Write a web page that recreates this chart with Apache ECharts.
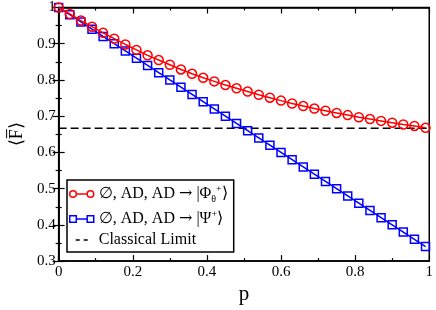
<!DOCTYPE html>
<html><head><meta charset="utf-8">
<script src="https://cdn.jsdelivr.net/npm/echarts@6/dist/echarts.min.js"></script>
<style>html,body{margin:0;padding:0;background:#fff}#c{width:436px;height:310px}</style>
</head><body><div id="c"></div>
<script>
const pValues = [0,0.03,0.06,0.09,0.12,0.15,0.18,0.21,0.24,0.27,0.30,0.33,0.36,0.39,0.42,0.45,0.48,0.51,0.54,0.57,0.60,0.63,0.66,0.69,0.72,0.75,0.78,0.81,0.84,0.87,0.90,0.93,0.96,0.99];
const phiFidelity = [1.000,0.982,0.964,0.947,0.930,0.914,0.898,0.883,0.868,0.855,0.842,0.829,0.817,0.806,0.796,0.786,0.777,0.768,0.759,0.751,0.743,0.735,0.728,0.721,0.715,0.709,0.703,0.697,0.692,0.687,0.682,0.677,0.673,0.668];
const psiFidelity = [1.00,0.98,0.96,0.94,0.92,0.90,0.88,0.86,0.84,0.82,0.80,0.78,0.76,0.74,0.72,0.70,0.68,0.66,0.64,0.62,0.60,0.58,0.56,0.54,0.52,0.50,0.48,0.46,0.44,0.42,0.40,0.38,0.36,0.34];
const classicalP = [0, 1];
const classicalLimit = [0.6667, 0.6667];
const xTicks = ['0','0.2','0.4','0.6','0.8','1'];

const serif = 'Liberation Serif';
const pair = (xs, ys) => xs.map((x, i) => [x, ys[i]]);

const chart = echarts.init(document.getElementById('c'), null, {renderer:'canvas'});
const axisCommon = {
  axisLine:{lineStyle:{color:'#000',width:1.5}},
  axisTick:{inside:true,length:6,lineStyle:{color:'#000',width:1.2}},
  minorTick:{show:true,splitNumber:2,length:3,lineStyle:{color:'#000',width:1.2}},
  splitLine:{show:false}
};
const labelStyle = {fontFamily:serif,fontSize:15,color:'#000',fontWeight:'normal'};
chart.setOption({
  animation:false,
  textStyle:{fontFamily:serif},
  grid:{left:48,right:5,top:7,bottom:35,show:true,borderColor:'#000',borderWidth:1.5},
  xAxis:[
    Object.assign({type:'value',min:0,max:1,interval:0.2,position:'bottom',
      name:'p',nameLocation:'middle',nameGap:8,
      nameTextStyle:{fontFamily:serif,fontSize:21,color:'#000'},
      axisLabel:Object.assign({margin:3,
        formatter:(v)=>{const i=Math.round(v/0.2);return xTicks[i]!==undefined?xTicks[i]:'';}}, labelStyle)}, axisCommon),
    Object.assign({type:'value',min:0,max:1,interval:0.2,position:'top',axisLabel:{show:false}}, axisCommon)
  ],
  yAxis:[
    Object.assign({type:'value',min:0.3,max:1,interval:0.1,position:'left',
      name:'\u27E8F\u0305\u27E9',nameLocation:'middle',nameGap:18,nameRotate:90,
      nameTextStyle:{fontFamily:serif,fontSize:18,color:'#000'},
      axisLabel:Object.assign({margin:3,
        formatter:(v)=>String(Math.round(v*10)/10)}, labelStyle)}, axisCommon),
    Object.assign({type:'value',min:0.3,max:1,interval:0.1,position:'right',axisLabel:{show:false}}, axisCommon)
  ],
  legend:{
    left:67,top:180,orient:'vertical',
    borderColor:'#000',borderWidth:1.5,borderRadius:0,backgroundColor:'#fff',
    padding:[4,6,4,2],itemGap:5,itemWidth:24,itemHeight:8,
    data:[
      {name:'phi',icon:'path://M4,1A3,3 0 1,1 4,7A3,3 0 1,1 4,1ZM7,4L17,4M20,1A3,3 0 1,1 20,7A3,3 0 1,1 20,1Z',
        itemStyle:{color:'rgba(0,0,0,0)',borderColor:'#ff0000',borderWidth:1.5}},
      {name:'psi',icon:'path://M1,1L7,1L7,7L1,7ZM7,4L17,4M17,1L23,1L23,7L17,7Z',
        itemStyle:{color:'rgba(0,0,0,0)',borderColor:'#0000ff',borderWidth:1.5}},
      {name:'cl',icon:'path://M0,0M6,4L10,4M14,4L18,4M24,8',
        itemStyle:{color:'rgba(0,0,0,0)',borderColor:'#000',borderWidth:1.5}}
    ],
    formatter:(n)=>{
      if(n==='phi') return '{m|\u2205, AD, AD }{a|\u2192}{m| |\u03A6}{sub|\u03B8}{sup|+}{m|\u27E9}';
      if(n==='psi') return '{m|\u2205, AD, AD }{a|\u2192}{m| |\u03A8}{sup|+}{m|\u27E9}';
      return '{m|Classical Limit}';
    },
    textStyle:{fontFamily:serif,fontSize:16,color:'#000',
      rich:{
        m:{fontFamily:serif,fontSize:16,color:'#000'},
        a:{fontFamily:'DejaVu Serif',fontSize:16,color:'#000'},
        sub:{fontFamily:serif,fontSize:10,color:'#000',verticalAlign:'bottom',lineHeight:20},
        sup:{fontFamily:serif,fontSize:10,color:'#000',verticalAlign:'top',lineHeight:20}
      }}
  },
  series:[
    {name:'cl',type:'line',data:pair(classicalP,classicalLimit),showSymbol:false,symbol:'none',
      lineStyle:{color:'#000',width:1.5,type:[8,4]},z:1},
    {name:'psi',type:'line',data:pair(pValues,psiFidelity),symbol:'rect',symbolSize:8,
      lineStyle:{color:'#0000ff',width:1.5},
      itemStyle:{color:'rgba(0,0,0,0)',borderColor:'#0000ff',borderWidth:1.5},z:2},
    {name:'phi',type:'line',data:pair(pValues,phiFidelity),symbol:'circle',symbolSize:9,
      lineStyle:{color:'#ff0000',width:1.5},
      itemStyle:{color:'rgba(0,0,0,0)',borderColor:'#ff0000',borderWidth:1.5},z:3}
  ]
});
</script></body></html>
